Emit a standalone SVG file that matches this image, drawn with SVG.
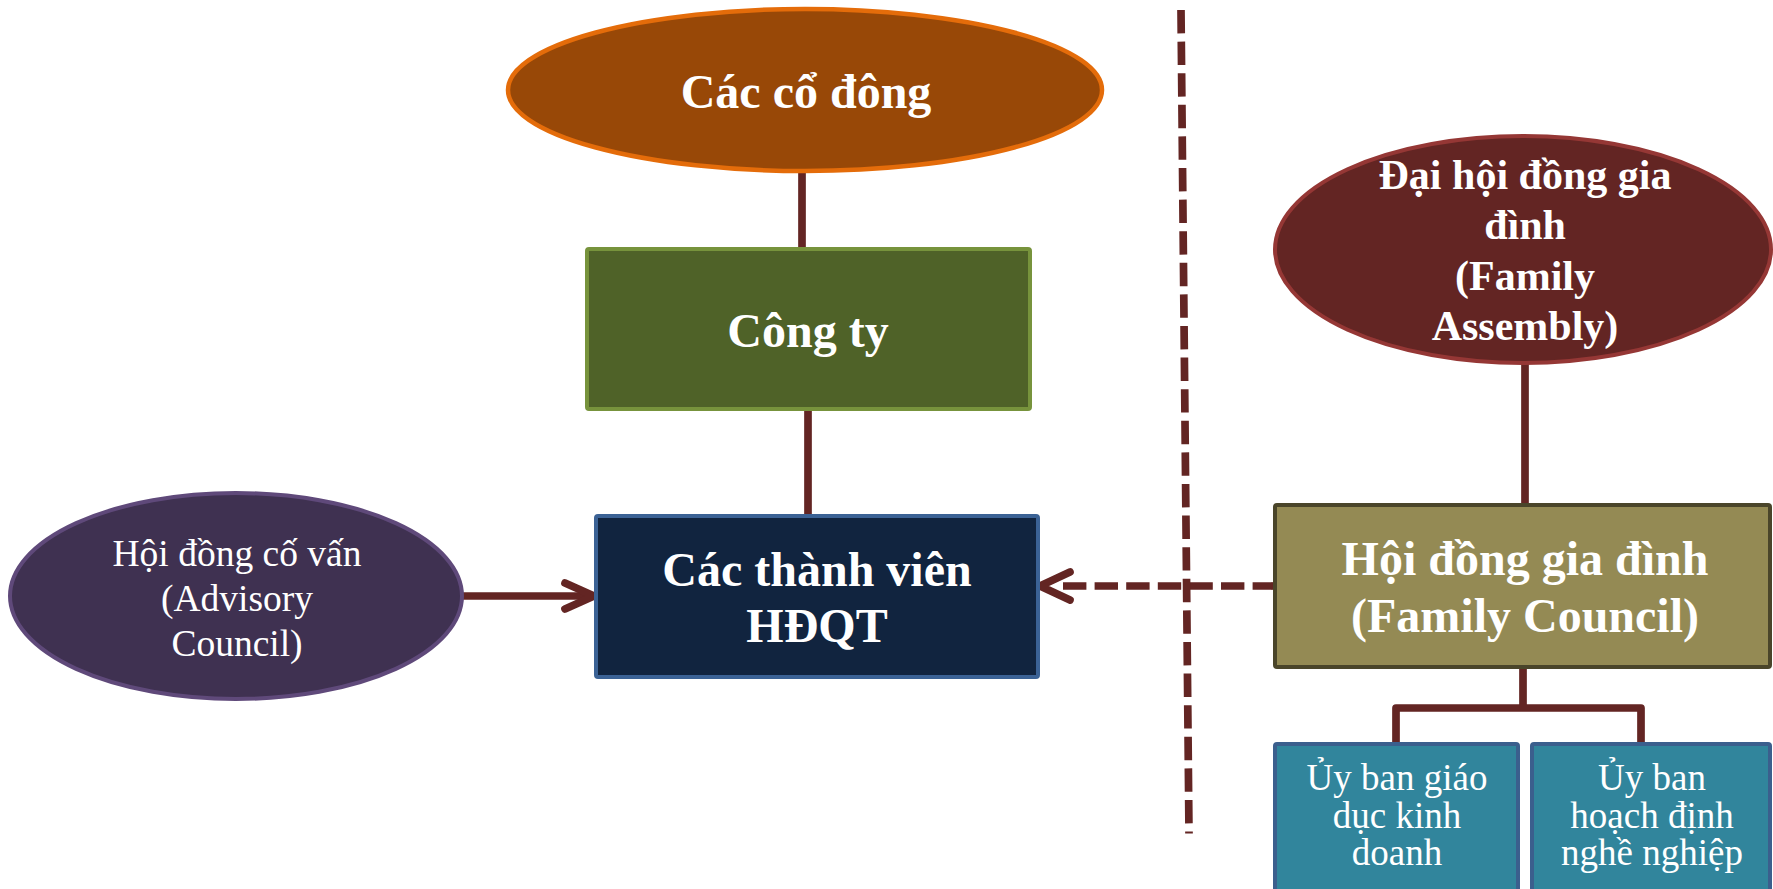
<svg xmlns="http://www.w3.org/2000/svg" width="1773" height="889" viewBox="0 0 1773 889">
<style>
.tb{font-family:"Liberation Serif","Times New Roman",serif;font-weight:bold;fill:#ffffff;text-anchor:middle}
.tr{font-family:"Liberation Serif","Times New Roman",serif;font-weight:normal;fill:#ffffff;text-anchor:middle}
.con{fill:none;stroke:#632523;stroke-width:7.7}
.head{fill:none;stroke:#632523;stroke-width:7.7;stroke-linecap:round;stroke-linejoin:round}
.dash{fill:none;stroke:#632523;stroke-width:7.7;stroke-dasharray:23.4 8.2}
</style>
<rect width="1773" height="889" fill="#ffffff"/>
<g id="connectors">
  <line class="con" x1="802" y1="171" x2="802" y2="249"/>
  <line class="con" x1="808" y1="409" x2="808" y2="516"/>
  <line class="con" x1="1525" y1="363" x2="1525" y2="505"/>
  <path class="con" d="M1523,667 V708 H1396 V744 M1523,708 H1641 V744" stroke-linejoin="round"/>
  <line class="con" x1="462" y1="596" x2="590" y2="596"/>
  <path class="head" d="M565,583 L594,596 L565,609"/>
  <path class="dash" d="M1276,586 H1062"/>
  <path class="head" d="M1070,572 L1040,586 L1070,600"/>
  <path class="dash" d="M1181,10 L1189,833.5" stroke-width="7.5" stroke-dasharray="23.5 8.5"/>
</g>
<g id="node-co-dong">
  <ellipse cx="805" cy="90" rx="297" ry="81" fill="#984807" stroke="#E46C0A" stroke-width="4.5"/>
  <text class="tb" x="806" y="108" font-size="48">Các cổ đông</text>
</g>
<g id="node-cong-ty">
  <rect x="587" y="249" width="443" height="160" rx="2" fill="#4F6228" stroke="#77933C" stroke-width="4"/>
  <text class="tb" x="808" y="347" font-size="48">Công ty</text>
</g>
<g id="node-hdqt">
  <rect x="596" y="516" width="442" height="161" rx="2" fill="#11243F" stroke="#3B6295" stroke-width="4"/>
  <text class="tb" x="817" y="586" font-size="48">Các thành viên</text>
  <text class="tb" x="817" y="642" font-size="48">HĐQT</text>
</g>
<g id="node-advisory">
  <ellipse cx="236" cy="596" rx="226" ry="103" fill="#3F3151" stroke="#5F497A" stroke-width="4"/>
  <text class="tr" x="237" y="566" font-size="37.5">Hội đồng cố vấn</text>
  <text class="tr" x="237" y="611" font-size="37.5">(Advisory</text>
  <text class="tr" x="237" y="656" font-size="37.5">Council)</text>
</g>
<g id="node-family-assembly">
  <ellipse cx="1523" cy="249.5" rx="248" ry="113.5" fill="#632523" stroke="#953735" stroke-width="4"/>
  <text class="tb" x="1525" y="189" font-size="42">Đại hội đồng gia</text>
  <text class="tb" x="1525" y="239" font-size="42">đình</text>
  <text class="tb" x="1525" y="290" font-size="42">(Family</text>
  <text class="tb" x="1525" y="340" font-size="42">Assembly)</text>
</g>
<g id="node-family-council">
  <rect x="1275" y="505" width="495" height="162" rx="2" fill="#948A54" stroke="#4A452A" stroke-width="4"/>
  <text class="tb" x="1525" y="575" font-size="48">Hội đồng gia đình</text>
  <text class="tb" x="1525" y="632" font-size="48">(Family Council)</text>
</g>
<g id="node-uy-ban-giao-duc">
  <rect x="1275" y="744" width="243" height="160" rx="2" fill="#31859C" stroke="#3B5F8D" stroke-width="4"/>
  <text class="tr" x="1397" y="790" font-size="37">Ủy ban giáo</text>
  <text class="tr" x="1397" y="828" font-size="37">dục kinh</text>
  <text class="tr" x="1397" y="865" font-size="37">doanh</text>
</g>
<g id="node-uy-ban-hoach-dinh">
  <rect x="1532" y="744" width="238" height="160" rx="2" fill="#31859C" stroke="#3B5F8D" stroke-width="4"/>
  <text class="tr" x="1652" y="790" font-size="37">Ủy ban</text>
  <text class="tr" x="1652" y="828" font-size="37">hoạch định</text>
  <text class="tr" x="1652" y="865" font-size="37">nghề nghiệp</text>
</g>
</svg>
